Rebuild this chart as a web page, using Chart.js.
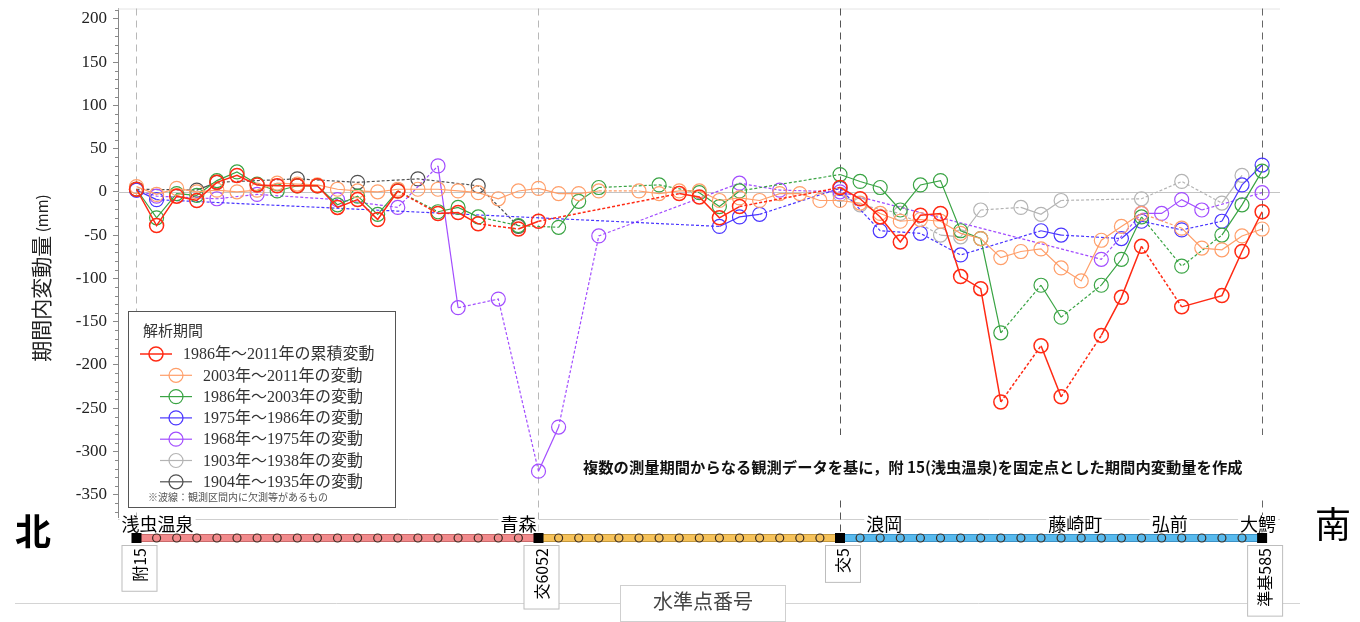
<!DOCTYPE html>
<html>
<head>
<meta charset="utf-8">
<script src="https://cdn.jsdelivr.net/npm/chart.js@4/dist/chart.umd.min.js"></script>
<style>
  html, body { margin: 0; padding: 0; background: #fff; }
  #wrap { width: 1360px; height: 622px; }
</style>
</head>
<body>
<div id="wrap"><canvas id="myChart" width="1360" height="622"></canvas></div>
<script>
// 水準点の並び (0 = 附15 ... 56 = 準基585)
const stationCount = 57;
const keyStations = [0, 20, 35, 56];
const keyNames = ['附15', '交6052', '交5', '準基585'];
const placeNames = ['浅虫温泉', '青森', '浪岡', '藤崎町', '弘前', '大鰐'];
const placePos = [1.05, 19.0, 37.2, 46.7, 51.4, 55.8];
const yTicks = [200, 150, 100, 50, 0, -50, -100, -150, -200, -250, -300, -350];

const labels = [
    '1986年～2011年の累積変動',
    '2003年～2011年の変動',
    '1986年～2003年の変動',
    '1975年～1986年の変動',
    '1968年～1975年の変動',
    '1903年～1938年の変動',
    '1904年～1935年の変動'
];

const stRed = [0,1,2,3,4,5,6,7,8,9,10,11,12,13,15,16,17,19,20,27,28,29,30,35,36,37,38,39,40,41,42,43,45,46,48,49,50,52,54,55,56];
const valRed = [3,-39,-5,-10,11,19,8,7,7,7,-18,-9,-32,1,-25,-24,-37,-43,-34,-2,-6,-30,-17,5,-8,-29,-58,-27,-25,-98,-112,-243,-178,-237,-166,-122,-63,-133,-120,-69,-23];

const stOrange = [0,1,2,3,4,5,6,7,8,9,10,11,12,13,14,15,16,17,18,19,20,21,22,23,25,26,27,28,29,30,31,32,33,34,35,36,37,38,39,40,41,42,43,44,45,46,47,48,49,50,52,53,54,55,56];
const valOrange = [6,-3,4,0,2,0,2,10,9,8,3,1,0,3,3,3,1,-1,-8,1,4,-2,-2,1,1,-2,1,1,-10,-7,-10,-2,-2,-10,-10,-13,-25,-34,-32,-34,-48,-54,-76,-69,-66,-88,-103,-56,-40,-25,-42,-65,-67,-51,-43];

const stGreen = [0,1,2,3,4,5,6,7,8,9,10,11,12,13,15,16,17,19,21,22,23,26,28,29,30,35,36,37,38,39,40,41,42,43,45,46,48,49,50,52,54,55,56];
const valGreen = [3,-30,-2,-4,13,23,9,1,7,7,-15,-5,-26,1,-23,-18,-29,-39,-41,-11,5,8,-1,-17,1,20,12,5,-21,8,13,-45,-54,-163,-108,-145,-108,-78,-29,-86,-50,-15,24];

const stBlue = [0,1,29,30,31,35,37,39,41,45,46,49,50,52,54,55,56];
const valBlue = [2,-9,-40,-29,-26,4,-45,-48,-73,-45,-50,-54,-34,-44,-34,8,31];

const stPurple = [0,1,4,6,10,13,15,16,18,20,21,23,30,32,35,48,50,51,52,53,56];
const valPurple = [2,-5,-8,-3,-9,-18,30,-134,-124,-323,-272,-51,10,2,0,-78,-25,-25,-9,-21,-1];

const stGray = [35,36,38,40,41,42,44,45,46,50,52,54,55];
const valGray = [-3,-15,-25,-50,-52,-21,-18,-26,-10,-8,12,-13,19];

const stBlack = [0,3,4,8,11,14,17,19];
const valBlack = [3,2,11,15,11,15,7,-40];

// 破線の例外 (区間の始点の番号)
const redSolidFrom = [52];
const purpleDashFrom = [0];

const colors = ['#ff2a14', '#ff9f6a', '#3aa444', '#4a36ff', '#a24dff', '#b4b4b4', '#505050'];

function makeSeries(i, st, val, w, solidFrom, dashFrom) {
    solidFrom = solidFrom || [];
    dashFrom = dashFrom || [];
    return {
        label: labels[i],
        data: st.map((s, k) => ({ x: s, y: val[k] })),
        borderColor: colors[i],
        backgroundColor: 'rgba(0,0,0,0)',
        borderWidth: w,
        pointRadius: 7,
        pointBorderWidth: w,
        pointBackgroundColor: 'rgba(0,0,0,0)',
        pointBorderColor: colors[i],
        tension: 0,
        segment: {
            borderDash: c => {
                const a = c.p0.parsed.x, b = c.p1.parsed.x;
                if (solidFrom.includes(a)) return undefined;
                if (b - a > 1.5 || dashFrom.includes(a)) return [3, 2];
                return undefined;
            }
        }
    };
}

const datasets = [
    makeSeries(0, stRed, valRed, 1.5, redSolidFrom),
    makeSeries(1, stOrange, valOrange, 1.2),
    makeSeries(2, stGreen, valGreen, 1.2),
    makeSeries(3, stBlue, valBlue, 1.2),
    makeSeries(4, stPurple, valPurple, 1.2, [], purpleDashFrom),
    makeSeries(5, stGray, valGray, 1.2),
    makeSeries(6, stBlack, valBlack, 1.2)
];

const serif = '"Liberation Serif", "Noto Sans CJK JP", serif';
const sans = '"Noto Sans CJK JP", "Noto Sans", sans-serif';

const routeColors = [
    { from: 0, to: 20, fill: '#f28a8c', line: '#c96a6a' },
    { from: 20, to: 35, fill: '#f6c25a', line: '#c3973c' },
    { from: 35, to: 56, fill: '#58baee', line: '#3b90c4' }
];

function dashedLine(ctx, x, y1, y2, color) {
    ctx.save();
    ctx.strokeStyle = color;
    ctx.lineWidth = 1;
    ctx.setLineDash([7, 5]);
    ctx.beginPath();
    ctx.moveTo(Math.round(x) + 0.5, y1);
    ctx.lineTo(Math.round(x) + 0.5, y2);
    ctx.stroke();
    ctx.restore();
}

const overlay = {
    id: 'overlay',
    beforeDatasetsDraw(chart) {
        const ctx = chart.ctx;
        const xs = chart.scales.x;
        const ys = chart.scales.y;
        const a = chart.chartArea;

        // 上枠・下枠
        ctx.save();
        ctx.strokeStyle = '#e4e4e4';
        ctx.lineWidth = 1;
        ctx.beginPath();
        ctx.moveTo(a.left, a.top + 0.5);
        ctx.lineTo(a.right, a.top + 0.5);
        ctx.stroke();
        ctx.strokeStyle = '#cfcfcf';
        ctx.beginPath();
        ctx.moveTo(a.left, a.bottom + 2.5);
        ctx.lineTo(a.right, a.bottom + 2.5);
        ctx.stroke();

        // ゼロ線
        const y0 = Math.round(ys.getPixelForValue(0)) + 0.5;
        ctx.strokeStyle = '#c4c4c4';
        ctx.beginPath();
        ctx.moveTo(a.left, y0);
        ctx.lineTo(a.right, y0);
        ctx.stroke();

        // 副目盛
        ctx.strokeStyle = '#888';
        for (let v = -370; v <= 210; v += 10) {
            if (v % 50 === 0) continue;
            const y = Math.round(ys.getPixelForValue(v)) + 0.5;
            ctx.beginPath();
            ctx.moveTo(a.left - 3, y);
            ctx.lineTo(a.left, y);
            ctx.stroke();
        }
        ctx.restore();

        // 区切りの破線
        dashedLine(ctx, xs.getPixelForValue(0), a.top, a.bottom, '#b8b8b8');
        dashedLine(ctx, xs.getPixelForValue(20), a.top, 532, '#b8b8b8');
        dashedLine(ctx, xs.getPixelForValue(35), a.top, 532, '#555');
        dashedLine(ctx, xs.getPixelForValue(56), a.top, 515, '#666');

        // 縦軸タイトル
        ctx.save();
        ctx.translate(41, 278);
        ctx.rotate(-Math.PI / 2);
        ctx.fillStyle = '#222';
        ctx.textBaseline = 'middle';
        ctx.font = '21px ' + sans;
        const t1 = '期間内変動量';
        const w1 = ctx.measureText(t1).width;
        ctx.font = '15px ' + sans;
        const t2 = ' (mm)';
        const w2 = ctx.measureText(t2).width;
        const x0 = -(w1 + w2) / 2;
        ctx.font = '21px ' + sans;
        ctx.fillText(t1, x0, 0);
        ctx.font = '15px ' + sans;
        ctx.fillText(t2, x0 + w1, 1);
        ctx.restore();
    },
    afterDatasetsDraw(chart) {
        const ctx = chart.ctx;
        const xs = chart.scales.x;

        // 注記
        ctx.save();
        ctx.fillStyle = '#fff';
        ctx.fillRect(568, 435, 704, 64);
        ctx.fillStyle = '#111';
        ctx.font = 'bold 15.3px ' + sans;
        ctx.textBaseline = 'middle';
        ctx.fillText('複数の測量期間からなる観測データを基に，附 15(浅虫温泉)を固定点とした期間内変動量を作成', 583, 467);
        ctx.restore();

        // 凡例
        ctx.save();
        ctx.fillStyle = '#fff';
        ctx.fillRect(128.5, 311.5, 267, 196);
        ctx.strokeStyle = '#555';
        ctx.lineWidth = 1;
        ctx.strokeRect(128.5, 311.5, 267, 196);
        ctx.fillStyle = '#333';
        ctx.textBaseline = 'middle';
        ctx.font = '15px ' + serif;
        ctx.fillText('解析期間', 143, 332);
        chart.data.datasets.forEach((ds, i) => {
            const y = 354 + i * 21.3;
            const lx = i === 0 ? 140 : 160;
            ctx.strokeStyle = ds.borderColor;
            ctx.lineWidth = i === 0 ? 1.5 : 1.2;
            ctx.beginPath();
            ctx.moveTo(lx, y);
            ctx.lineTo(lx + 32, y);
            ctx.stroke();
            ctx.beginPath();
            ctx.arc(lx + 16, y, 7, 0, Math.PI * 2);
            ctx.stroke();
            ctx.fillStyle = '#333';
            ctx.font = '16px ' + serif;
            ctx.fillText(ds.label, lx + 43, y + 1);
        });
        ctx.fillStyle = '#555';
        ctx.font = '10px ' + serif;
        ctx.fillText('※波線：観測区間内に欠測等があるもの', 148, 498);
        ctx.restore();

        // 路線の帯
        const yc = 538;
        ctx.save();
        ctx.strokeStyle = '#d4d4d4';
        ctx.lineWidth = 1;
        ctx.beginPath();
        ctx.moveTo(15, 603.5);
        ctx.lineTo(1300, 603.5);
        ctx.stroke();

        // 地名
        ctx.font = '18px ' + sans;
        ctx.textBaseline = 'middle';
        ctx.textAlign = 'center';
        placeNames.forEach((n, k) => {
            const cx = xs.getPixelForValue(placePos[k]);
            const w = ctx.measureText(n).width;
            ctx.fillStyle = '#fff';
            ctx.fillRect(cx - w / 2 - 2, 519, w + 4, 14);
            ctx.fillStyle = '#000';
            ctx.fillText(n, cx, 524);
        });

        routeColors.forEach(r => {
            const xa = xs.getPixelForValue(r.from);
            const xb = xs.getPixelForValue(r.to);
            ctx.fillStyle = r.fill;
            ctx.fillRect(xa, yc - 4, xb - xa, 8);
            ctx.strokeStyle = r.line;
            ctx.lineWidth = 1;
            ctx.strokeRect(xa, yc - 3.5, xb - xa, 7);
        });
        for (let i = 0; i < stationCount; i++) {
            if (keyStations.includes(i)) continue;
            const r = routeColors.find(c => i > c.from && i < c.to);
            const x = xs.getPixelForValue(i);
            ctx.beginPath();
            ctx.arc(x, yc, 4, 0, Math.PI * 2);
            ctx.fillStyle = r.fill;
            ctx.fill();
            ctx.strokeStyle = '#3a2c22';
            ctx.lineWidth = 1.2;
            ctx.stroke();
        }
        keyStations.forEach(i => {
            const x = xs.getPixelForValue(i);
            ctx.fillStyle = '#000';
            ctx.fillRect(x - 5, yc - 5, 10, 10);
        });

        // 水準点番号 (縦書きの枠)
        ctx.textAlign = 'right';
        keyStations.forEach((i, k) => {
            const x = xs.getPixelForValue(i);
            ctx.font = '16px ' + sans;
            const w = ctx.measureText(keyNames[k]).width;
            ctx.fillStyle = '#fff';
            ctx.fillRect(x - 14.5, 545.5, 35, w + 12);
            ctx.strokeStyle = '#bdbdbd';
            ctx.lineWidth = 1;
            ctx.strokeRect(x - 14.5, 545.5, 35, w + 12);
            ctx.save();
            ctx.translate(x + 3, 548);
            ctx.rotate(-Math.PI / 2);
            ctx.fillStyle = '#000';
            ctx.fillText(keyNames[k], 0, 0);
            ctx.restore();
        });

        // 軸名
        ctx.fillStyle = '#fff';
        ctx.fillRect(620.5, 585.5, 165, 36);
        ctx.strokeStyle = '#cfcfcf';
        ctx.strokeRect(620.5, 585.5, 165, 36);
        ctx.fillStyle = '#444';
        ctx.textAlign = 'center';
        ctx.font = '20px ' + serif;
        ctx.fillText('水準点番号', 703, 604);

        // 方位
        ctx.fillStyle = '#000';
        ctx.font = 'bold 36px ' + sans;
        ctx.fillText('北', 33, 531);
        ctx.font = '36px ' + sans;
        ctx.fillText('南', 1333, 524);
        ctx.restore();
    }
};

new Chart(document.getElementById('myChart'), {
    type: 'line',
    data: { datasets: datasets },
    options: {
        responsive: false,
        animation: false,
        layout: { padding: { left: 0, top: 7, right: 80, bottom: 105 } },
        plugins: {
            legend: { display: false },
            tooltip: { enabled: false }
        },
        scales: {
            x: {
                type: 'linear',
                min: -0.92,
                max: 56.89,
                display: false
            },
            y: {
                min: -376,
                max: 212,
                afterBuildTicks: s => { s.ticks = yTicks.map(v => ({ value: v })); },
                afterFit: s => {
                    s.width = 118;
                    s.paddingTop = 0;
                    s.paddingBottom = 0;
                },
                border: { display: true, color: '#888' },
                grid: { drawOnChartArea: false, drawTicks: true, tickLength: 5, tickColor: '#888' },
                ticks: {
                    autoSkip: false,
                    padding: 6,
                    color: '#222',
                    font: { family: '"Liberation Serif", serif', size: 17 }
                }
            }
        }
    },
    plugins: [overlay]
});
</script>
</body>
</html>
